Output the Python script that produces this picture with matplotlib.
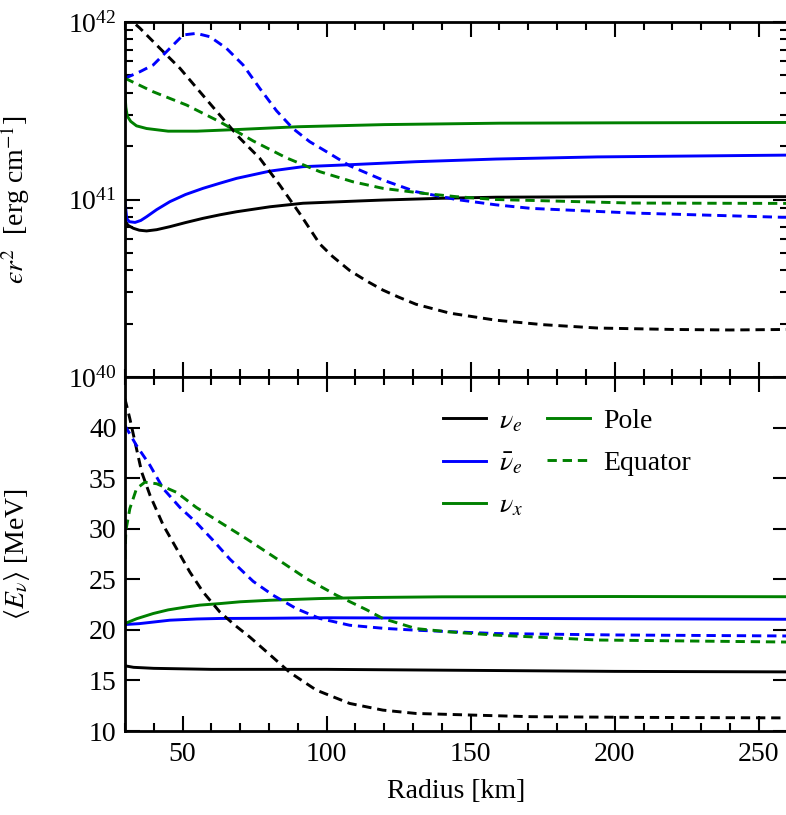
import numpy as np
import matplotlib
matplotlib.use("Agg")
import matplotlib.pyplot as plt
from matplotlib.lines import Line2D
from matplotlib.ticker import MultipleLocator, LogLocator, NullFormatter

plt.rcParams['font.family'] = ['Liberation Serif', 'DejaVu Serif']
plt.rcParams['mathtext.fontset'] = 'stix'
plt.rcParams['font.size'] = 20

# ---- top panel: log10(eps r^2 / erg cm^-1) vs radius [km] ----
r_e_pole = [30, 31, 32.9, 35, 37.5, 41, 45.6, 51, 57.1, 63, 68.7, 80.3, 91.8, 111.5, 119.5, 140, 158.8, 200, 260]
l_e_pole = [40.884, 40.855, 40.838, 40.827, 40.823, 40.83, 40.847, 40.87, 40.894, 40.914, 40.931, 40.959, 40.979,
            40.992, 40.997, 41.007, 41.013, 41.016, 41.016]

r_a_pole = [30, 30.6, 31.5, 33.5, 35.5, 37.5, 41, 45.6, 51, 57.1, 63, 68.7, 80.3, 91.8, 108, 131, 158.8, 194, 259]
l_a_pole = [40.99, 40.894, 40.875, 40.871, 40.882, 40.903, 40.943, 40.988, 41.028, 41.063, 41.092, 41.119, 41.16,
            41.185, 41.196, 41.213, 41.228, 41.24, 41.25]

r_x_pole = [30, 30.3, 30.8, 32, 34, 37.5, 45, 55, 70, 90, 120, 160, 200, 260]
l_x_pole = [41.6, 41.52, 41.47, 41.44, 41.415, 41.4, 41.385, 41.385, 41.395, 41.41, 41.422, 41.43, 41.432, 41.434]

r_e_eq = [30, 32.8, 35.2, 42.1, 49.1, 56, 62.9, 69.9, 76.8, 83.7, 90.7, 97.6, 102, 108, 114, 119.5, 125, 131,
          142.7, 158.8, 175, 194, 220, 240, 260]
l_e_eq = [42.045, 42.0, 41.965, 41.852, 41.739, 41.607, 41.476, 41.345, 41.232, 41.082, 40.92, 40.75, 40.68, 40.6,
          40.54, 40.49, 40.45, 40.41, 40.36, 40.32, 40.295, 40.276, 40.268, 40.265, 40.268]

r_a_eq = [30, 35.2, 39.8, 45.6, 50.2, 54.8, 59.5, 65.2, 71, 76.8, 82.6, 88.3, 94.1, 99.9, 108, 119.5, 131, 145,
          158.8, 171, 206, 258, 260]
l_a_eq = [41.683, 41.72, 41.758, 41.852, 41.927, 41.936, 41.917, 41.852, 41.758, 41.626, 41.5, 41.4, 41.326, 41.27,
          41.19, 41.11, 41.044, 41.0, 40.97, 40.95, 40.924, 40.9, 40.9]

r_x_eq = [30, 39.8, 51.4, 62.9, 74.5, 86, 97.6, 109.1, 119.5, 133.4, 145, 158.8, 206, 260]
l_x_eq = [41.683, 41.607, 41.532, 41.438, 41.33, 41.235, 41.157, 41.1, 41.063, 41.035, 41.016, 41.0, 40.98, 40.978]

# ---- bottom panel: <E> [MeV] vs radius [km] ----
rm_e_pole = [30, 33, 40, 60, 100, 150, 200, 260]
m_e_pole = [16.45, 16.3, 16.2, 16.1, 16.1, 16.0, 15.9, 15.85]

rm_a_pole = [30, 35, 45.6, 55, 62.9, 80, 100, 150, 200, 260]
m_a_pole = [20.53, 20.62, 20.96, 21.08, 21.13, 21.15, 21.2, 21.15, 21.1, 21.05]

rm_x_pole = [30, 34, 39.8, 45, 51.4, 56, 62.9, 70, 80.3, 97.6, 113.8, 140, 200, 260]
m_x_pole = [20.63, 21.1, 21.62, 21.98, 22.27, 22.45, 22.6, 22.78, 22.93, 23.1, 23.2, 23.27, 23.3, 23.28]

rm_e_eq = [30, 31.7, 33.5, 35.8, 38.7, 43.3, 47.9, 52.5, 57.1, 62.9, 68, 73.3, 79.1, 87.2, 96.4, 108, 119.5, 131,
           154.2, 171, 210, 260]
m_e_eq = [42.84, 40.87, 38.56, 35.6, 33.3, 30.34, 28.04, 25.73, 23.75, 21.78, 20.5, 19.3, 17.85, 15.8, 14.05, 12.73,
          12.07, 11.74, 11.55, 11.42, 11.35, 11.3]

rm_a_eq = [30, 34, 38.7, 43.3, 49.1, 54.8, 60.6, 66.4, 74.5, 81.4, 89.5, 97.6, 108, 120, 131, 145, 158.8, 200, 260]
m_a_eq = [40.2, 38.23, 36.26, 33.96, 32.1, 30.6, 28.85, 27.0, 24.8, 23.43, 22.1, 21.13, 20.46, 20.15, 19.97, 19.8,
          19.64, 19.5, 19.4]

rm_x_eq = [30, 30.3, 31.7, 34, 36.9, 41, 47.9, 54.8, 62.9, 72.2, 82.6, 93, 103.4, 113.8, 119.5, 131, 142.7,
           158.8, 194, 260]
m_x_eq = [27.0, 29.8, 32.0, 33.96, 34.6, 34.45, 33.6, 32.1, 30.66, 29.0, 27.05, 25.07, 23.43, 22.0, 21.13, 20.13,
          19.8, 19.48, 19.0, 18.8]

black, blue, green = 'k', '#0000ff', '#008000'
lw = 2.1
dash = (3.2, 2.0)

fig = plt.figure(figsize=(7.86, 8.15), dpi=100)
ax1 = fig.add_axes([0.159, 0.5374, 0.843, 0.4356])
ax2 = fig.add_axes([0.159, 0.103, 0.843, 0.4344])

ax1.plot(r_e_pole, 10 ** np.array(l_e_pole), color=black, lw=lw)
ax1.plot(r_a_pole, 10 ** np.array(l_a_pole), color=blue, lw=lw)
ax1.plot(r_x_pole, 10 ** np.array(l_x_pole), color=green, lw=lw)
ax1.plot(r_e_eq, 10 ** np.array(l_e_eq), color=black, lw=lw, ls=(0, dash))
ax1.plot(r_a_eq, 10 ** np.array(l_a_eq), color=blue, lw=lw, ls=(0, dash))
ax1.plot(r_x_eq, 10 ** np.array(l_x_eq), color=green, lw=lw, ls=(0, dash))
ax1.set_yscale('log')
ax1.set_ylim(1e40, 1e42)
ax1.set_xlim(30, 260)
ax1.set_ylabel("$\u03f5 r^2$  [erg cm$^{-1}$]")
ax1.tick_params(labelbottom=False)
ax1.yaxis.set_major_locator(LogLocator(base=10, numticks=5))
ax1.yaxis.set_minor_locator(LogLocator(base=10, subs=np.arange(2, 10), numticks=20))
ax1.yaxis.set_minor_formatter(NullFormatter())

ax2.plot(rm_e_pole, m_e_pole, color=black, lw=lw)
ax2.plot(rm_a_pole, m_a_pole, color=blue, lw=lw)
ax2.plot(rm_x_pole, m_x_pole, color=green, lw=lw)
ax2.plot(rm_e_eq, m_e_eq, color=black, lw=lw, ls=(0, dash))
ax2.plot(rm_a_eq, m_a_eq, color=blue, lw=lw, ls=(0, dash))
ax2.plot(rm_x_eq, m_x_eq, color=green, lw=lw, ls=(0, dash))
ax2.set_xlim(30, 260)
ax2.set_ylim(10, 45)
ax2.set_yticks([10, 15, 20, 25, 30, 35, 40])
ax2.set_xlabel('Radius [km]')
ax2.set_ylabel(r'$\langle E_\nu\rangle$ [MeV]')
ax2.xaxis.set_label_coords(0.5, -0.135)

for ax in (ax1, ax2):
    ax.xaxis.set_major_locator(MultipleLocator(50))
    ax.xaxis.set_minor_locator(MultipleLocator(10))
    ax.tick_params(which='both', direction='in', top=True, right=True, width=1.5)
    ax.tick_params(which='major', length=11)
    ax.tick_params(which='minor', length=6)
    ax.tick_params(axis='x', pad=8)
    ax.tick_params(axis='y', pad=6)
    ax.yaxis.set_label_coords(-0.14, 0.5)
    for s in ax.spines.values():
        s.set_linewidth(2)

handles = [Line2D([], [], color=black, lw=lw),
           Line2D([], [], color=blue, lw=lw),
           Line2D([], [], color=green, lw=lw),
           Line2D([], [], color=green, lw=lw),
           Line2D([], [], color=green, lw=lw, ls=(0, dash))]
labels = [r'$\nu_e$', r'$\bar{\nu}_e$', r'$\nu_x$', 'Pole', 'Equator']
ax2.legend(handles, labels, ncol=2, frameon=False, loc='upper left',
           bbox_to_anchor=(0.455, 0.958), handlelength=1.55, handletextpad=0.45,
           columnspacing=0.9, labelspacing=0.6, borderaxespad=0.2, fontsize=20)

fig.savefig('out.png', dpi=100)
